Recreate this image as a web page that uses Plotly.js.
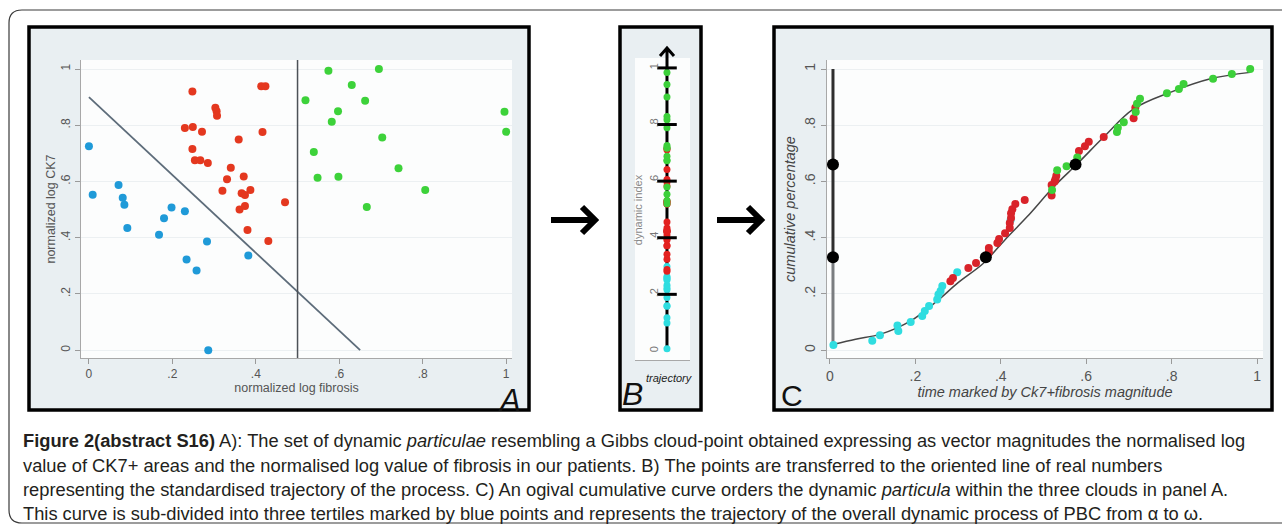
<!DOCTYPE html>
<html>
<head>
<meta charset="utf-8">
<script src="https://cdn.plot.ly/plotly-3.0.1.min.js"></script>
<style>
  html, body { margin: 0; padding: 0; background: #ffffff; }
  #chart { width: 1282px; height: 525px; }
</style>
</head>
<body>
<div id="chart"></div>
<script>
// ---------------- DATA ----------------
// tick values / labels shared by the panels
const tickVals = [0, 0.2, 0.4, 0.6, 0.8, 1];
const tickText = ['0', '.2', '.4', '.6', '.8', '1'];

// Panel A: normalized log fibrosis (x) vs normalized log CK7 (y)
const aBlueX = [0.000, 0.009, 0.071, 0.081, 0.085, 0.092, 0.168, 0.180, 0.198, 0.230, 0.234, 0.258, 0.283, 0.286, 0.382];
const aBlueY = [0.725, 0.553, 0.587, 0.542, 0.517, 0.434, 0.410, 0.469, 0.507, 0.494, 0.322, 0.283, 0.386, 0.000, 0.337];
const aRedX = [0.248, 0.230, 0.249, 0.271, 0.248, 0.254, 0.267, 0.285, 0.303, 0.306, 0.307, 0.320, 0.331, 0.340, 0.359, 0.371, 0.366, 0.374, 0.387, 0.361, 0.374, 0.380, 0.413, 0.423, 0.416, 0.430, 0.470];
const aRedY = [0.920, 0.790, 0.794, 0.777, 0.715, 0.675, 0.675, 0.666, 0.862, 0.850, 0.834, 0.567, 0.608, 0.649, 0.749, 0.618, 0.558, 0.552, 0.570, 0.500, 0.513, 0.427, 0.939, 0.939, 0.776, 0.388, 0.526];
const aGreenX = [0.574, 0.695, 0.630, 0.519, 0.662, 0.597, 0.582, 0.996, 1.000, 0.703, 0.539, 0.548, 0.598, 0.742, 0.806, 0.666];
const aGreenY = [0.994, 1.000, 0.943, 0.889, 0.887, 0.850, 0.812, 0.848, 0.777, 0.756, 0.705, 0.613, 0.617, 0.647, 0.570, 0.509];
const aDiagX = [0, 0.65];
const aDiagY = [0.9, 0];
const aVertX = [0.5, 0.5];
const aVertY = [-0.03, 1.04];

// Panel C: time marked by Ck7+fibrosis magnitude (x) vs cumulative percentage (y)
const cCyanX = [0.008, 0.099, 0.117, 0.158, 0.160, 0.189, 0.216, 0.222, 0.232, 0.251, 0.254, 0.259, 0.263, 0.298, 0.423];
const cCyanY = [0.018, 0.033, 0.053, 0.088, 0.068, 0.100, 0.121, 0.139, 0.157, 0.180, 0.198, 0.210, 0.228, 0.277, 0.463];
const cRedX = [0.282, 0.288, 0.324, 0.342, 0.372, 0.372, 0.392, 0.396, 0.410, 0.421, 0.421, 0.424, 0.424, 0.427, 0.434, 0.456, 0.519, 0.519, 0.526, 0.528, 0.530, 0.583, 0.597, 0.606, 0.641, 0.711, 0.715];
const cRedY = [0.245, 0.257, 0.292, 0.310, 0.348, 0.363, 0.381, 0.395, 0.416, 0.434, 0.452, 0.470, 0.487, 0.501, 0.520, 0.534, 0.550, 0.587, 0.600, 0.608, 0.620, 0.708, 0.725, 0.741, 0.758, 0.825, 0.862];
const cGreenX = [0.520, 0.532, 0.554, 0.579, 0.672, 0.674, 0.688, 0.716, 0.719, 0.726, 0.789, 0.817, 0.828, 0.897, 0.941, 0.984];
const cGreenY = [0.570, 0.640, 0.654, 0.685, 0.776, 0.791, 0.811, 0.847, 0.876, 0.894, 0.914, 0.929, 0.947, 0.965, 0.982, 1.000];
const cCurveX = [0.009, 0.060, 0.119, 0.189, 0.251, 0.300, 0.360, 0.410, 0.462, 0.524, 0.580, 0.641, 0.711, 0.797, 0.891, 0.984];
const cCurveY = [0.021, 0.039, 0.057, 0.104, 0.175, 0.240, 0.310, 0.393, 0.475, 0.581, 0.664, 0.758, 0.858, 0.917, 0.965, 0.988];
const cTertX = [0.007, 0.007, 0.365, 0.575];
const cTertY = [0.66, 0.33, 0.33, 0.66];
const cSpikeX = [0.007, 0.007];
const cSpikeUpperY = [0.33, 1.0];
const cSpikeLowerY = [0.02, 0.33];

// Panel B: dynamic index = the time values of panel C laid on one line
const bLineY = [0, 1];
const bTickY = [0.2, 0.4, 0.6, 0.8, 1];

// ---------------- LAYOUT HELPERS ----------------
const W = 1282, H = 525;
function fx(p) { return p / W; }
function fy(p) { return 1 - p / H; }
function zeros(arr) { return arr.map(function () { return 0; }); }
function pathOf(pts) {
  // pts: list of [command, xPixel, yPixel]
  return pts.map(function (p) { return p[0] + ' ' + fx(p[1]) + ',' + fy(p[2]); }).join(' ');
}

const FONT = 'Liberation Sans, Arial, sans-serif';
const cBlue = '#1f9ad8', cRed = '#e4381f', cGreen = '#3dd23a';
const cCyan = '#2fdde0', cRed2 = '#d9232a', cGreen2 = '#3cd03a';

const traces = [
  // ---- Panel A
  {x: aDiagX, y: aDiagY, xaxis: 'x', yaxis: 'y', mode: 'lines', line: {color: '#5d6c7a', width: 1.8}, hoverinfo: 'skip'},
  {x: aVertX, y: aVertY, xaxis: 'x', yaxis: 'y', mode: 'lines', line: {color: '#4c5157', width: 1.5}, hoverinfo: 'skip'},
  {x: aBlueX, y: aBlueY, xaxis: 'x', yaxis: 'y', mode: 'markers', marker: {color: cBlue, size: 8}},
  {x: aRedX, y: aRedY, xaxis: 'x', yaxis: 'y', mode: 'markers', marker: {color: cRed, size: 8}},
  {x: aGreenX, y: aGreenY, xaxis: 'x', yaxis: 'y', mode: 'markers', marker: {color: cGreen, size: 8}},
  // ---- Panel B
  {x: zeros(bLineY), y: bLineY, xaxis: 'x2', yaxis: 'y2', mode: 'lines', line: {color: '#000000', width: 3}, hoverinfo: 'skip'},
  {x: zeros(cCyanX), y: cCyanX, xaxis: 'x2', yaxis: 'y2', mode: 'markers', marker: {color: cCyan, size: 7}},
  {x: zeros(cRedX), y: cRedX, xaxis: 'x2', yaxis: 'y2', mode: 'markers', marker: {color: '#e3211f', size: 7}},
  {x: zeros(cGreenX), y: cGreenX, xaxis: 'x2', yaxis: 'y2', mode: 'markers', marker: {color: cGreen2, size: 7}},
  {x: zeros(bTickY), y: bTickY, xaxis: 'x2', yaxis: 'y2', mode: 'markers', cliponaxis: false,
   marker: {symbol: 'line-ew', size: 14, line: {color: '#000000', width: 3}}},
  // ---- Panel C
  {x: cSpikeX, y: cSpikeLowerY, xaxis: 'x3', yaxis: 'y3', mode: 'lines', line: {color: '#7a7d80', width: 3}, hoverinfo: 'skip'},
  {x: cSpikeX, y: cSpikeUpperY, xaxis: 'x3', yaxis: 'y3', mode: 'lines', line: {color: '#2e2e2e', width: 3}, hoverinfo: 'skip'},
  {x: cCurveX, y: cCurveY, xaxis: 'x3', yaxis: 'y3', mode: 'lines', line: {color: '#464646', width: 1.5, shape: 'spline'}, hoverinfo: 'skip'},
  {x: cCyanX, y: cCyanY, xaxis: 'x3', yaxis: 'y3', mode: 'markers', marker: {color: cCyan, size: 8}},
  {x: cRedX, y: cRedY, xaxis: 'x3', yaxis: 'y3', mode: 'markers', marker: {color: cRed2, size: 8}},
  {x: cGreenX, y: cGreenY, xaxis: 'x3', yaxis: 'y3', mode: 'markers', marker: {color: cGreen2, size: 8}},
  {x: cTertX, y: cTertY, xaxis: 'x3', yaxis: 'y3', mode: 'markers', marker: {color: '#000000', size: 12}}
];

function baseAxis(extra) {
  return Object.assign({
    tickvals: tickVals, ticktext: tickText,
    ticks: 'outside', ticklen: 5, tickcolor: '#9a9a9a', tickwidth: 1,
    showline: true, linecolor: '#a8a8a8', linewidth: 1,
    zeroline: false, showgrid: false,
    tickfont: {family: FONT, size: 12, color: '#555555'}
  }, extra);
}

function rectShape(x0, x1, y0, y1, fill, lineW) {
  return {type: 'rect', xref: 'paper', yref: 'paper', layer: 'below',
    x0: fx(x0), x1: fx(x1), y0: fy(y1), y1: fy(y0), fillcolor: fill,
    line: lineW ? {color: '#000000', width: lineW} : {width: 0}};
}

const panelFill = '#e9eff2';
const whiteFill = '#fcfdfd';
const shapes = [
  // outer rounded frame
  {type: 'path', xref: 'paper', yref: 'paper', layer: 'below',
   path: 'M ' + fx(1290) + ',' + fy(10) + ' L ' + fx(22) + ',' + fy(10) +
         ' Q ' + fx(9) + ',' + fy(10) + ' ' + fx(9) + ',' + fy(23) +
         ' L ' + fx(9) + ',' + fy(510) +
         ' Q ' + fx(9) + ',' + fy(523) + ' ' + fx(22) + ',' + fy(523) +
         ' L ' + fx(1290) + ',' + fy(523),
   line: {color: '#3a3a3a', width: 1.2}},
  // panel frames
  rectShape(29, 529, 27, 410, panelFill, 3.5),
  rectShape(620, 701, 27, 410, panelFill, 3.5),
  rectShape(774, 1272, 27, 410, panelFill, 3.5),
  // white plot regions
  rectShape(81, 512, 60, 358, whiteFill, 0),
  rectShape(635, 690, 58, 360, whiteFill, 0),
  rectShape(827, 1263, 60, 358, whiteFill, 0),
  // arrows between panels
  {type: 'path', xref: 'paper', yref: 'paper', layer: 'above',
   path: pathOf([['M', 551, 220], ['L', 594, 220], ['M', 582, 207], ['L', 595, 220], ['L', 582, 233]]),
   line: {color: '#000000', width: 6}},
  {type: 'path', xref: 'paper', yref: 'paper', layer: 'above',
   path: pathOf([['M', 717, 220], ['L', 760, 220], ['M', 748, 207], ['L', 761, 220], ['L', 748, 233]]),
   line: {color: '#000000', width: 6}},
  // arrow head of the trajectory line in panel B
  {type: 'path', xref: 'paper', yref: 'paper', layer: 'above',
   path: pathOf([['M', 667, 68], ['L', 667, 48], ['M', 660, 56], ['L', 667, 48], ['L', 674, 56]]),
   line: {color: '#000000', width: 3}}
];

const capFont = {family: FONT, size: 18.3, color: '#231f20'};
const capLines = [
  '<b>Figure 2(abstract S16)</b> A): The set of dynamic <i>particulae</i> resembling a Gibbs cloud-point obtained expressing as vector magnitudes the normalised log',
  'value of CK7+ areas and the normalised log value of fibrosis in our patients. B) The points are transferred to the oriented line of real numbers',
  'representing the standardised trajectory of the process. C) An ogival cumulative curve orders the dynamic <i>particula</i> within the three clouds in panel A.',
  'This curve is sub-divided into three tertiles marked by blue points and represents the trajectory of the overall dynamic process of PBC from \u03b1 to \u03c9.'
];
const capY = [440, 465, 489, 513];

const annotations = capLines.map(function (t, i) {
  return {text: t, xref: 'paper', yref: 'paper', x: fx(21), y: fy(capY[i]),
    xanchor: 'left', yanchor: 'middle', showarrow: false, font: capFont};
});
annotations.push(
  {text: '<i>A</i>', xref: 'paper', yref: 'paper', x: fx(509), y: fy(400), xanchor: 'center', yanchor: 'middle', showarrow: false, font: {family: FONT, size: 31, color: '#111111'}},
  {text: '<i>B</i>', xref: 'paper', yref: 'paper', x: fx(632), y: fy(394), xanchor: 'center', yanchor: 'middle', showarrow: false, font: {family: FONT, size: 32, color: '#111111'}},
  {text: '<i>trajectory</i>', xref: 'paper', yref: 'paper', x: fx(669), y: fy(378), xanchor: 'center', yanchor: 'middle', showarrow: false, font: {family: FONT, size: 11, color: '#222222'}},
  {text: 'C', xref: 'paper', yref: 'paper', x: fx(792), y: fy(395), xanchor: 'center', yanchor: 'middle', showarrow: false, font: {family: FONT, size: 30, color: '#111111'}}
);

const layout = {
  width: W, height: H,
  margin: {l: 0, r: 0, t: 0, b: 0},
  paper_bgcolor: '#ffffff', plot_bgcolor: 'rgba(0,0,0,0)',
  showlegend: false,
  font: {family: FONT},
  // Panel A
  xaxis: baseAxis({domain: [fx(81), fx(512)], range: [-0.019, 1.014], anchor: 'y',
    title: {text: 'normalized log fibrosis', font: {family: FONT, size: 12.5, color: '#555555'}, standoff: 2}}),
  yaxis: baseAxis({domain: [fy(358), fy(60)], range: [-0.028, 1.032], anchor: 'x', tickangle: -90,
    showgrid: true, gridcolor: '#ecf0f2', gridwidth: 1,
    title: {text: 'normalized log CK7', font: {family: FONT, size: 12.5, color: '#555555'}, standoff: 0}}),
  // Panel B
  xaxis2: {domain: [fx(635), fx(690)], range: [-1, 0.72], anchor: 'y2', showticklabels: false, ticks: '',
    showline: true, linecolor: '#a8a8a8', zeroline: false, showgrid: false},
  yaxis2: {domain: [fy(360), fy(60)], range: [-0.032, 1.028], anchor: 'free', position: fx(660), side: 'left',
    tickvals: tickVals, ticktext: tickText, tickangle: -90, ticks: '', showline: false, zeroline: false, showgrid: false,
    tickfont: {family: FONT, size: 11, color: '#777777'},
    title: {text: 'dynamic index', font: {family: FONT, size: 11, color: '#888888'}, standoff: 1}},
  // Panel C
  xaxis3: baseAxis({domain: [fx(827), fx(1263)], range: [-0.007, 1.014], anchor: 'y3',
    tickfont: {family: FONT, size: 14, color: '#555555'},
    title: {text: '<i>time marked by Ck7+fibrosis magnitude</i>', font: {family: FONT, size: 14.5, color: '#444444'}, standoff: 2}}),
  yaxis3: baseAxis({domain: [fy(358), fy(60)], range: [-0.028, 1.032], anchor: 'x3', tickangle: -90,
    showgrid: true, gridcolor: '#ecf0f2', gridwidth: 1,
    tickfont: {family: FONT, size: 14, color: '#555555'},
    title: {text: '<i>cumulative percentage</i>', font: {family: FONT, size: 14.5, color: '#444444'}, standoff: 3}}),
  shapes: shapes,
  annotations: annotations
};

Plotly.newPlot('chart', traces, layout, {displayModeBar: false, staticPlot: true});
</script>
</body>
</html>
